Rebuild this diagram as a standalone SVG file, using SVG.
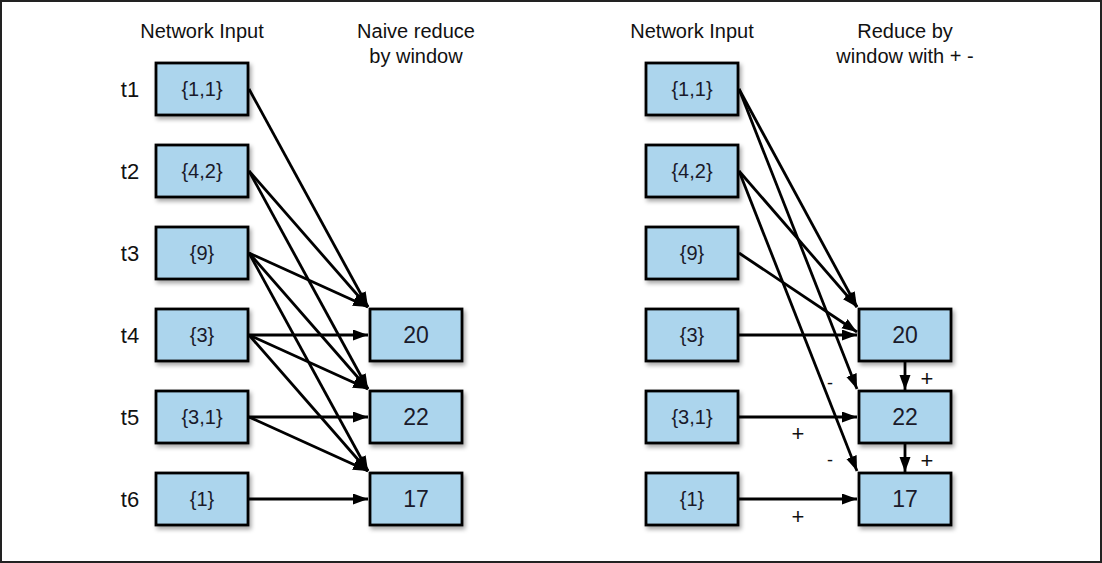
<svg xmlns="http://www.w3.org/2000/svg" width="1102" height="563" viewBox="0 0 1102 563">
<style>
text{font-family:"Liberation Sans",Arial,sans-serif;fill:#111;text-anchor:middle}
.h{font-size:20px}
.t{font-size:22px}
.in{font-size:20px;fill:#1a1a2a}
.out{font-size:23px;fill:#1a1a2a}
.pl{font-size:22px}
.mi{font-size:18px}
.box{fill:#acd5ed;stroke:#000;stroke-width:2.8;filter:url(#sh)}
.c line{stroke:#000;stroke-width:2.8;marker-end:url(#ah)}
</style>
<defs>
<filter id="sh" x="-10%" y="-10%" width="130%" height="140%">
<feDropShadow dx="2" dy="3" stdDeviation="2" flood-color="#000" flood-opacity="0.35"/>
</filter>
<marker id="ah" markerUnits="userSpaceOnUse" markerWidth="17" markerHeight="13" refX="15" refY="5.5" orient="auto">
<path d="M0,0 L15,5.5 L0,11 z" fill="#000"/>
</marker>
</defs>
<rect x="1" y="1" width="1100" height="561" fill="#fff" stroke="#222" stroke-width="2"/>

<g id="titles">
<text class="h" x="202" y="38">Network Input</text>
<text class="h" x="416" y="38">Naive reduce</text>
<text class="h" x="416" y="63">by window</text>
<text class="h" x="692" y="38">Network Input</text>
<text class="h" x="905" y="38">Reduce by</text>
<text class="h" x="905" y="63">window with + -</text>
</g>

<g id="time-labels">
<text class="t" x="130" y="97">t1</text>
<text class="t" x="130" y="179">t2</text>
<text class="t" x="130" y="261">t3</text>
<text class="t" x="130" y="343">t4</text>
<text class="t" x="130" y="425">t5</text>
<text class="t" x="130" y="507">t6</text>
</g>

<g class="c" id="connectors">
<line x1="249" y1="89" x2="368" y2="307"/>
<line x1="249" y1="171" x2="368" y2="307"/>
<line x1="249" y1="171" x2="368" y2="389"/>
<line x1="249" y1="253" x2="368" y2="307"/>
<line x1="249" y1="253" x2="368" y2="389"/>
<line x1="249" y1="253" x2="368" y2="471"/>
<line x1="249" y1="335" x2="368" y2="335"/>
<line x1="249" y1="335" x2="368" y2="389"/>
<line x1="249" y1="335" x2="368" y2="471"/>
<line x1="249" y1="417" x2="368" y2="417"/>
<line x1="249" y1="417" x2="368" y2="471"/>
<line x1="249" y1="499" x2="368" y2="499"/>
<line x1="739" y1="89" x2="857" y2="307"/>
<line x1="739" y1="89" x2="857" y2="389"/>
<line x1="739" y1="171" x2="857" y2="307"/>
<line x1="739" y1="171" x2="857" y2="471"/>
<line x1="739" y1="253" x2="857" y2="332"/>
<line x1="739" y1="335" x2="857" y2="335"/>
<line x1="739" y1="417" x2="857" y2="417"/>
<line x1="739" y1="499" x2="857" y2="499"/>
<line x1="905" y1="362" x2="905" y2="390"/>
<line x1="905" y1="444" x2="905" y2="472"/>
</g>

<g id="signs">
<text class="mi" x="830" y="389">-</text>
<text class="mi" x="830" y="466">-</text>
<text class="pl" x="798" y="441">+</text>
<text class="pl" x="798" y="524">+</text>
<text class="pl" x="927" y="386">+</text>
<text class="pl" x="927" y="468">+</text>
</g>

<g id="L-in-1"><rect class="box" x="156" y="63" width="92" height="52"/><text class="in" x="202" y="96">{1,1}</text></g>
<g id="L-in-2"><rect class="box" x="156" y="145" width="92" height="52"/><text class="in" x="202" y="178">{4,2}</text></g>
<g id="L-in-3"><rect class="box" x="156" y="227" width="92" height="52"/><text class="in" x="202" y="260">{9}</text></g>
<g id="L-in-4"><rect class="box" x="156" y="309" width="92" height="52"/><text class="in" x="202" y="342">{3}</text></g>
<g id="L-in-5"><rect class="box" x="156" y="391" width="92" height="52"/><text class="in" x="202" y="424">{3,1}</text></g>
<g id="L-in-6"><rect class="box" x="156" y="473" width="92" height="52"/><text class="in" x="202" y="506">{1}</text></g>

<g id="L-out-20"><rect class="box" x="370" y="309" width="92" height="52"/><text class="out" x="416" y="343">20</text></g>
<g id="L-out-22"><rect class="box" x="370" y="391" width="92" height="52"/><text class="out" x="416" y="425">22</text></g>
<g id="L-out-17"><rect class="box" x="370" y="473" width="92" height="52"/><text class="out" x="416" y="507">17</text></g>

<g id="R-in-1"><rect class="box" x="646" y="63" width="92" height="52"/><text class="in" x="692" y="96">{1,1}</text></g>
<g id="R-in-2"><rect class="box" x="646" y="145" width="92" height="52"/><text class="in" x="692" y="178">{4,2}</text></g>
<g id="R-in-3"><rect class="box" x="646" y="227" width="92" height="52"/><text class="in" x="692" y="260">{9}</text></g>
<g id="R-in-4"><rect class="box" x="646" y="309" width="92" height="52"/><text class="in" x="692" y="342">{3}</text></g>
<g id="R-in-5"><rect class="box" x="646" y="391" width="92" height="52"/><text class="in" x="692" y="424">{3,1}</text></g>
<g id="R-in-6"><rect class="box" x="646" y="473" width="92" height="52"/><text class="in" x="692" y="506">{1}</text></g>

<g id="R-out-20"><rect class="box" x="859" y="309" width="92" height="52"/><text class="out" x="905" y="343">20</text></g>
<g id="R-out-22"><rect class="box" x="859" y="391" width="92" height="52"/><text class="out" x="905" y="425">22</text></g>
<g id="R-out-17"><rect class="box" x="859" y="473" width="92" height="52"/><text class="out" x="905" y="507">17</text></g>
</svg>
